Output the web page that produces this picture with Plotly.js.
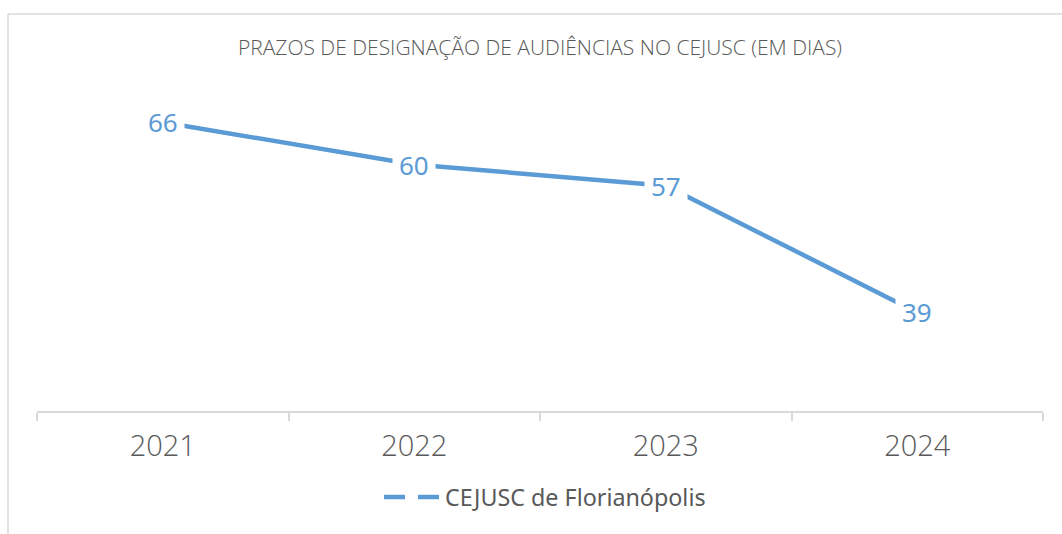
<!DOCTYPE html>
<html>
<head>
<meta charset="utf-8">
<script src="https://cdn.plot.ly/plotly-3.0.1.min.js"></script>
<style>html,body{margin:0;padding:0;background:#fff;}#chart{width:1062px;height:534px;}</style>
</head>
<body>
<div id="chart"></div>
<script>
const years = ["2021", "2022", "2023", "2024"];
const prazos = [66, 60, 57, 39];
const seriesName = "CEJUSC de Florianópolis";
const chartTitle = "PRAZOS DE DESIGNAÇÃO DE AUDIÊNCIAS NO CEJUSC (EM DIAS)";

const blue = "#5B9BD5";
const grey = "#595959";
const FONT = "Noto Sans, Open Sans, sans-serif";
const LIGHT = "Open Sans, Noto Sans, sans-serif";

const trace = {
  x: years, y: prazos, type: "scatter", mode: "lines",
  line: {color: blue, width: 4.5}, showlegend: false, hoverinfo: "skip"
};

// category axes take the category index for annotations
const labels = years.map((yr, i) => ({
  x: i, y: prazos[i], xref: "x", yref: "y", text: String(prazos[i]),
  showarrow: false, bgcolor: "#ffffff", borderpad: 6,
  font: {family: FONT, size: 26, color: blue}
}));

const L = 37, R = 19, T = 80, B = 123, W = 1062, H = 534;
const pw = W - L - R, ph = H - T - B;
const px = v => (v - L) / pw;
const py = v => (H - B - v) / ph;

const legendText = {
  x: px(443), y: py(497), xref: "paper", yref: "paper", xanchor: "left", yanchor: "middle",
  text: seriesName, showarrow: false, font: {family: FONT, size: 23.3, color: grey}
};

const layout = {
  width: W, height: H,
  margin: {l: L, r: R, t: T, b: B},
  paper_bgcolor: "#fff", plot_bgcolor: "#fff",
  title: {text: chartTitle, xref: "paper", x: 0.5, xanchor: "center", yref: "container", y: 1 - 48/534, yanchor: "middle",
          font: {family: LIGHT, size: 21, color: grey, weight: 300}},
  xaxis: {type: "category", range: [-0.5, 3.5], showgrid: false, zeroline: false,
          showline: true, linecolor: "#D9D9D9", linewidth: 2,
          ticks: "outside", tickson: "boundaries", ticklen: 8, tickcolor: "#D9D9D9", tickwidth: 2,
          ticklabelstandoff: 8,
          tickfont: {family: LIGHT, size: 29, color: grey, weight: 300}, fixedrange: true},
  yaxis: {visible: false, range: [25, 72], fixedrange: true},
  showlegend: false,
  annotations: labels.concat([legendText]),
  shapes: [
    {type: "line", xref: "paper", yref: "paper", x0: px(384), x1: px(440), y0: py(497), y1: py(497),
     line: {color: blue, width: 4.5, dash: "21px,13px"}},
    {type: "line", xref: "paper", yref: "paper", x0: px(8), x1: px(1070), y0: py(14), y1: py(14),
     line: {color: "#D9D9D9", width: 1.5}},
    {type: "line", xref: "paper", yref: "paper", x0: px(8), x1: px(8), y0: py(14), y1: py(540),
     line: {color: "#D9D9D9", width: 1.5}}
  ]
};

Plotly.newPlot("chart", [trace], layout, {displayModeBar: false, staticPlot: true});
</script>
</body>
</html>
